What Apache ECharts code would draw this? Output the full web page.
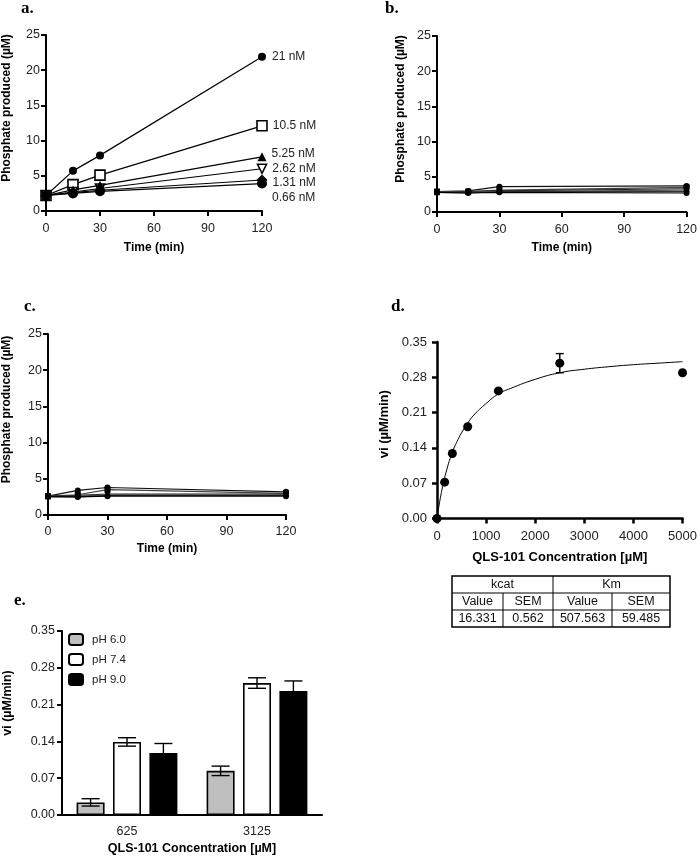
<!DOCTYPE html>
<html><head><meta charset="utf-8">
<script src="https://cdn.jsdelivr.net/npm/echarts@6/dist/echarts.min.js"></script>
<style>html,body{margin:0;padding:0;background:#fff}#c{width:700px;height:856px}</style>
</head><body><div id="c"></div>
<script>
// ---------- data ----------
var timePoints = [0, 15, 30, 120];
var timeTicks = [0, 30, 60, 90, 120];
var aNames = ['21 nM', '10.5 nM', '5.25 nM', '2.62 nM', '1.31 nM', '0.66 nM'];
var a21 = [2.2, 5.7, 7.9, 21.9];
var a105 = [2.2, 3.75, 5.1, 12.1];
var a525 = [2.2, 3.0, 3.65, 7.7];
var a262 = [2.2, 2.7, 3.2, 6.0];
var a131 = [2.2, 2.6, 2.95, 4.4];
var a066 = [2.2, 2.5, 2.8, 3.9];

var b1 = [2.9, 3.0, 3.6, 3.7];
var b2 = [2.9, 2.9, 3.1, 3.5];
var b3 = [2.8, 2.9, 3.0, 3.3];
var b4 = [2.8, 2.8, 2.9, 3.1];
var b5 = [2.8, 2.7, 2.9, 2.9];
var b6 = [2.8, 2.7, 2.8, 2.7];

var c1 = [2.6, 3.4, 3.8, 3.2];
var c2 = [2.6, 2.8, 3.5, 3.0];
var c3 = [2.6, 2.7, 2.9, 2.9];
var c4 = [2.55, 2.6, 2.8, 2.8];
var c5 = [2.55, 2.5, 2.7, 2.7];
var c6 = [2.55, 2.5, 2.6, 2.6];

var dConc = [0, 156.25, 312.5, 625, 1250, 2500, 5000];
var dRate = [0, 0.072, 0.129, 0.182, 0.253, 0.308, 0.289];
var dErrConc = [2500];
var dErrLow = [0.289];
var dErrHigh = [0.327];
var fitConc = [0, 100, 200, 300, 400, 500, 625, 750, 1000, 1250, 1500, 2000, 2500, 3000, 3500, 4000, 4500, 5000];
var fitRate = [0, 0.057, 0.097, 0.128, 0.151, 0.170, 0.189, 0.205, 0.228, 0.247, 0.258, 0.276, 0.289, 0.296, 0.301, 0.305, 0.308, 0.311];

var tableHeader = ['kcat', 'Km'];
var tableSub = ['Value', 'SEM', 'Value', 'SEM'];
var tableVals = ['16.331', '0.562', '507.563', '59.485'];

var eCategories = ['625', '3125'];
var eNames = ['pH 6.0', 'pH 7.4', 'pH 9.0'];
var ePH60 = [0.024, 0.084];
var ePH60Err = [0.007, 0.009];
var ePH74 = [0.139, 0.251];
var ePH74Err = [0.008, 0.010];
var ePH90 = [0.118, 0.236];
var ePH90Err = [0.018, 0.019];

// ---------- helpers ----------
var FONT = "'Liberation Sans', Arial, sans-serif";
function pairs(xs, ys) { return xs.map(function (x, i) { return [x, ys[i]]; }); }

function makeErr(offset, half) {
  return function (params, api) {
    var x0 = api.value(0);
    var p1 = api.coord([x0, api.value(1)]);
    var p2 = api.coord([x0, api.value(2)]);
    var x = p1[0] + offset;
    var st = { stroke: '#000', lineWidth: 1.4 };
    return { type: 'group', children: [
      { type: 'line', shape: { x1: x, y1: p1[1], x2: x, y2: p2[1] }, style: st },
      { type: 'line', shape: { x1: x - half, y1: p1[1], x2: x + half, y2: p1[1] }, style: st },
      { type: 'line', shape: { x1: x - half, y1: p2[1], x2: x + half, y2: p2[1] }, style: st }
    ]};
  };
}

function timeX(gi, nameGap, labelMargin) {
  return {
    type: 'value', gridIndex: gi, min: 0, max: 120, interval: 30,
    name: 'Time (min)', nameLocation: 'middle', nameGap: nameGap,
    nameTextStyle: { fontFamily: FONT, fontWeight: 'bold', fontSize: 12, color: '#000' },
    axisLine: { onZero: false, lineStyle: { color: '#000', width: 2 } },
    axisTick: { show: true, inside: false, length: 5, lineStyle: { color: '#000', width: 2 } },
    axisLabel: { fontFamily: FONT, fontSize: 12.5, color: '#222', margin: labelMargin },
    splitLine: { show: false }
  };
}
function phosY(gi, nameGap) {
  return {
    type: 'value', gridIndex: gi, min: 0, max: 25, interval: 5,
    name: 'Phosphate produced (\u00b5M)', nameLocation: 'middle', nameGap: nameGap,
    nameTextStyle: { fontFamily: FONT, fontWeight: 'bold', fontSize: 12, color: '#000', padding: [0, 0, 0, 30] },
    axisLine: { show: true, onZero: false, lineStyle: { color: '#000', width: 2 } },
    axisTick: { show: true, inside: false, length: 5, lineStyle: { color: '#000', width: 2 } },
    axisLabel: { fontFamily: FONT, fontSize: 12.5, color: '#222', margin: 6 },
    splitLine: { show: false }
  };
}

// panel a series
var aData = [a21, a105, a525, a262, a131, a066];
var aStyles = [
  { symbol: 'circle', size: 8, fill: '#000', dist: 6, dy: 0 },
  { symbol: 'rect', size: 10, fill: '#fff', dist: 5, dy: 0 },
  { symbol: 'triangle', size: 9, fill: '#000', dist: 5, dy: -3 },
  { symbol: 'triangle', size: 9, fill: '#fff', rotate: 180, dist: 5, dy: 0 },
  { symbol: 'diamond', size: 11, fill: '#000', dist: 5, dy: 3 },
  { symbol: 'circle', size: 10, fill: '#000', dist: 5, dy: 14 }
];
var series = [];
aData.forEach(function (ys, k) {
  var st = aStyles[k];
  var pts = pairs(timePoints, ys).map(function (p, i) {
    if (i === timePoints.length - 1) {
      return { value: p, label: { show: true, position: 'right', distance: st.dist, offset: [0, st.dy],
        formatter: aNames[k], fontFamily: FONT, fontSize: 12, color: '#222' } };
    }
    return { value: p };
  });
  series.push({
    type: 'line', name: aNames[k], xAxisIndex: 0, yAxisIndex: 0, data: pts,
    symbol: st.symbol, symbolSize: st.size, symbolRotate: st.rotate || 0, showSymbol: true,
    lineStyle: { color: '#000', width: 1.2 },
    itemStyle: { color: st.fill, borderColor: '#000', borderWidth: st.fill === '#fff' ? 1.6 : 0, opacity: 1 },
    clip: false, z: st.fill === '#fff' ? 3 : 6
  });
});

var smallSym = ['circle', 'rect', 'triangle', 'triangle', 'diamond', 'circle'];
var smallRot = [0, 0, 0, 180, 0, 0];
var lineShades = ['#111', '#444', '#222', '#555', '#333', '#000'];
[[b1, b2, b3, b4, b5, b6], [c1, c2, c3, c4, c5, c6]].forEach(function (set, gi) {
  set.forEach(function (ys, k) {
    series.push({
      type: 'line', name: (gi === 0 ? 'b' : 'c') + (k + 1), xAxisIndex: gi + 1, yAxisIndex: gi + 1,
      data: pairs(timePoints, ys), symbol: smallSym[k], symbolRotate: smallRot[k], symbolSize: 6,
      lineStyle: { color: lineShades[k], width: 1.2 }, itemStyle: { color: '#000' }, clip: false
    });
  });
});

// panel d
series.push({
  type: 'line', name: 'fit', xAxisIndex: 3, yAxisIndex: 3, data: pairs(fitConc, fitRate),
  smooth: true, showSymbol: false, symbol: 'none', lineStyle: { color: '#000', width: 1 }, z: 2
});
series.push({
  type: 'scatter', name: 'vi', xAxisIndex: 3, yAxisIndex: 3, data: pairs(dConc, dRate),
  symbol: 'circle', symbolSize: 9, itemStyle: { color: '#000', opacity: 1 }, clip: false, z: 4
});
series.push({
  type: 'custom', name: 'dErr', xAxisIndex: 3, yAxisIndex: 3,
  data: dErrConc.map(function (x, i) { return [x, dErrLow[i], dErrHigh[i]]; }),
  renderItem: makeErr(0, 4), clip: false, z: 3
});

// panel e
var eVals = [ePH60, ePH74, ePH90];
var eErr = [ePH60Err, ePH74Err, ePH90Err];
var eFill = ['#bfbfbf', '#ffffff', '#000000'];
eVals.forEach(function (vals, k) {
  series.push({
    type: 'bar', name: eNames[k], xAxisIndex: 4, yAxisIndex: 4, data: vals,
    barWidth: 28, barGap: '30%',
    itemStyle: { color: eFill[k], borderColor: '#000', borderWidth: 1.6 }, z: 2
  });
});
eVals.forEach(function (vals, k) {
  series.push({
    type: 'custom', name: eNames[k] + ' err', xAxisIndex: 4, yAxisIndex: 4,
    data: vals.map(function (v, i) { return [i, v - eErr[k][i], v + eErr[k][i]]; }),
    renderItem: makeErr((k - 1) * 36.4, 9), clip: false, z: 5
  });
});

// ---------- graphics: panel letters and table ----------
var letterStyle = function (t, x, y) {
  return { type: 'text', left: x, top: y, style: { text: t, font: 'bold 17px "Liberation Serif", "Times New Roman", serif', fill: '#000' } };
};
var graphics = [
  letterStyle('a.', 21, 0),
  letterStyle('b.', 385, 0),
  letterStyle('c.', 24, 298),
  letterStyle('d.', 391, 298),
  letterStyle('e.', 14, 592)
];
var tX = [452, 503, 553, 612, 670];
var tY = [576, 593, 610, 627];
graphics.push({ type: 'rect', shape: { x: tX[0], y: tY[0], width: tX[4] - tX[0], height: tY[3] - tY[0] },
  style: { fill: 'none', stroke: '#000', lineWidth: 1.5 } });
[tY[1], tY[2]].forEach(function (y) {
  graphics.push({ type: 'line', shape: { x1: tX[0], y1: y, x2: tX[4], y2: y }, style: { stroke: '#000', lineWidth: 1 } });
});
graphics.push({ type: 'line', shape: { x1: tX[2], y1: tY[0], x2: tX[2], y2: tY[3] }, style: { stroke: '#000', lineWidth: 1 } });
[tX[1], tX[3]].forEach(function (x) {
  graphics.push({ type: 'line', shape: { x1: x, y1: tY[1], x2: x, y2: tY[3] }, style: { stroke: '#000', lineWidth: 1 } });
});
function cellText(t, cx, cy) {
  return { type: 'text', x: cx, y: cy, style: { text: t, font: '12.5px ' + FONT, fill: '#111', align: 'center', verticalAlign: 'middle' } };
}
graphics.push(cellText(tableHeader[0], (tX[0] + tX[2]) / 2, (tY[0] + tY[1]) / 2));
graphics.push(cellText(tableHeader[1], (tX[2] + tX[4]) / 2, (tY[0] + tY[1]) / 2));
tableSub.forEach(function (t, i) { graphics.push(cellText(t, (tX[i] + tX[i + 1]) / 2, (tY[1] + tY[2]) / 2)); });
tableVals.forEach(function (t, i) { graphics.push(cellText(t, (tX[i] + tX[i + 1]) / 2, (tY[2] + tY[3]) / 2)); });

// ---------- option ----------
var option = {
  animation: false,
  backgroundColor: '#fff',
  textStyle: { fontFamily: FONT },
  grid: [
    { left: 41, top: 35, width: 221, height: 176 },
    { left: 437, top: 36, width: 250, height: 176 },
    { left: 41, top: 334, width: 245, height: 181 },
    { left: 437, top: 342, width: 248, height: 176.5 },
    { left: 55, top: 631, width: 267, height: 186 }
  ],
  legend: {
    data: eNames, orient: 'vertical', left: 63, top: 628,
    itemWidth: 14, itemHeight: 11, itemGap: 7,
    textStyle: { fontFamily: FONT, fontSize: 11.5, color: '#222', padding: [0, 0, 0, 4] },
    selectedMode: false
  },
  xAxis: [
    timeX(0, 31, 11),
    timeX(1, 30, 11),
    timeX(2, 28, 10),
    {
      type: 'value', gridIndex: 3, min: 0, max: 5000, interval: 1000,
      name: 'QLS-101 Concentration [\u00b5M]', nameLocation: 'middle', nameGap: 32,
      nameTextStyle: { fontFamily: FONT, fontWeight: 'bold', fontSize: 13, color: '#000' },
      axisLine: { onZero: false, lineStyle: { color: '#000', width: 2.5 } },
      axisTick: { show: true, length: 5, lineStyle: { color: '#000', width: 2.5 } },
      axisLabel: { fontFamily: FONT, fontSize: 13, color: '#222', margin: 11, formatter: function (v) { return String(v); } },
      splitLine: { show: false }
    },
    {
      type: 'category', gridIndex: 4, data: eCategories,
      name: 'QLS-101 Concentration [\u00b5M]', nameLocation: 'middle', nameGap: 27,
      nameTextStyle: { fontFamily: FONT, fontWeight: 'bold', fontSize: 12.5, color: '#000' },
      axisLine: { lineStyle: { color: '#000', width: 2 } },
      axisTick: { show: false },
      axisLabel: { fontFamily: FONT, fontSize: 12.5, color: '#222', margin: 10 }
    }
  ],
  yAxis: [
    phosY(0, 33),
    phosY(1, 30),
    phosY(2, 35),
    {
      type: 'value', gridIndex: 3, min: 0, max: 0.35, interval: 0.07,
      name: 'vi (\u00b5M/min)', nameLocation: 'middle', nameGap: 46,
      nameTextStyle: { fontFamily: FONT, fontWeight: 'bold', fontSize: 13, color: '#000', padding: [0, 0, 0, 12] },
      axisLine: { show: true, onZero: false, lineStyle: { color: '#000', width: 2.5 } },
      axisTick: { show: true, length: 5, lineStyle: { color: '#000', width: 2.5 } },
      axisLabel: { fontFamily: FONT, fontSize: 13, color: '#222', margin: 10, formatter: function (v) { return v.toFixed(2); } },
      splitLine: { show: false }
    },
    {
      type: 'value', gridIndex: 4, min: 0, max: 0.35, interval: 0.07,
      name: 'vi (\u00b5M/min)', nameLocation: 'middle', nameGap: 48,
      nameTextStyle: { fontFamily: FONT, fontWeight: 'bold', fontSize: 12.5, color: '#000', padding: [0, 0, 0, 40] },
      axisLine: { show: true, lineStyle: { color: '#000', width: 2 } },
      axisTick: { show: true, length: 5, lineStyle: { color: '#000', width: 2 } },
      axisLabel: { fontFamily: FONT, fontSize: 12.5, color: '#222', margin: 7, formatter: function (v) { return v.toFixed(2); } },
      splitLine: { show: false }
    }
  ],
  graphic: graphics,
  series: series
};
var chart = echarts.init(document.getElementById('c'), null, { renderer: 'canvas' });
chart.setOption(option);
</script>
</body></html>
